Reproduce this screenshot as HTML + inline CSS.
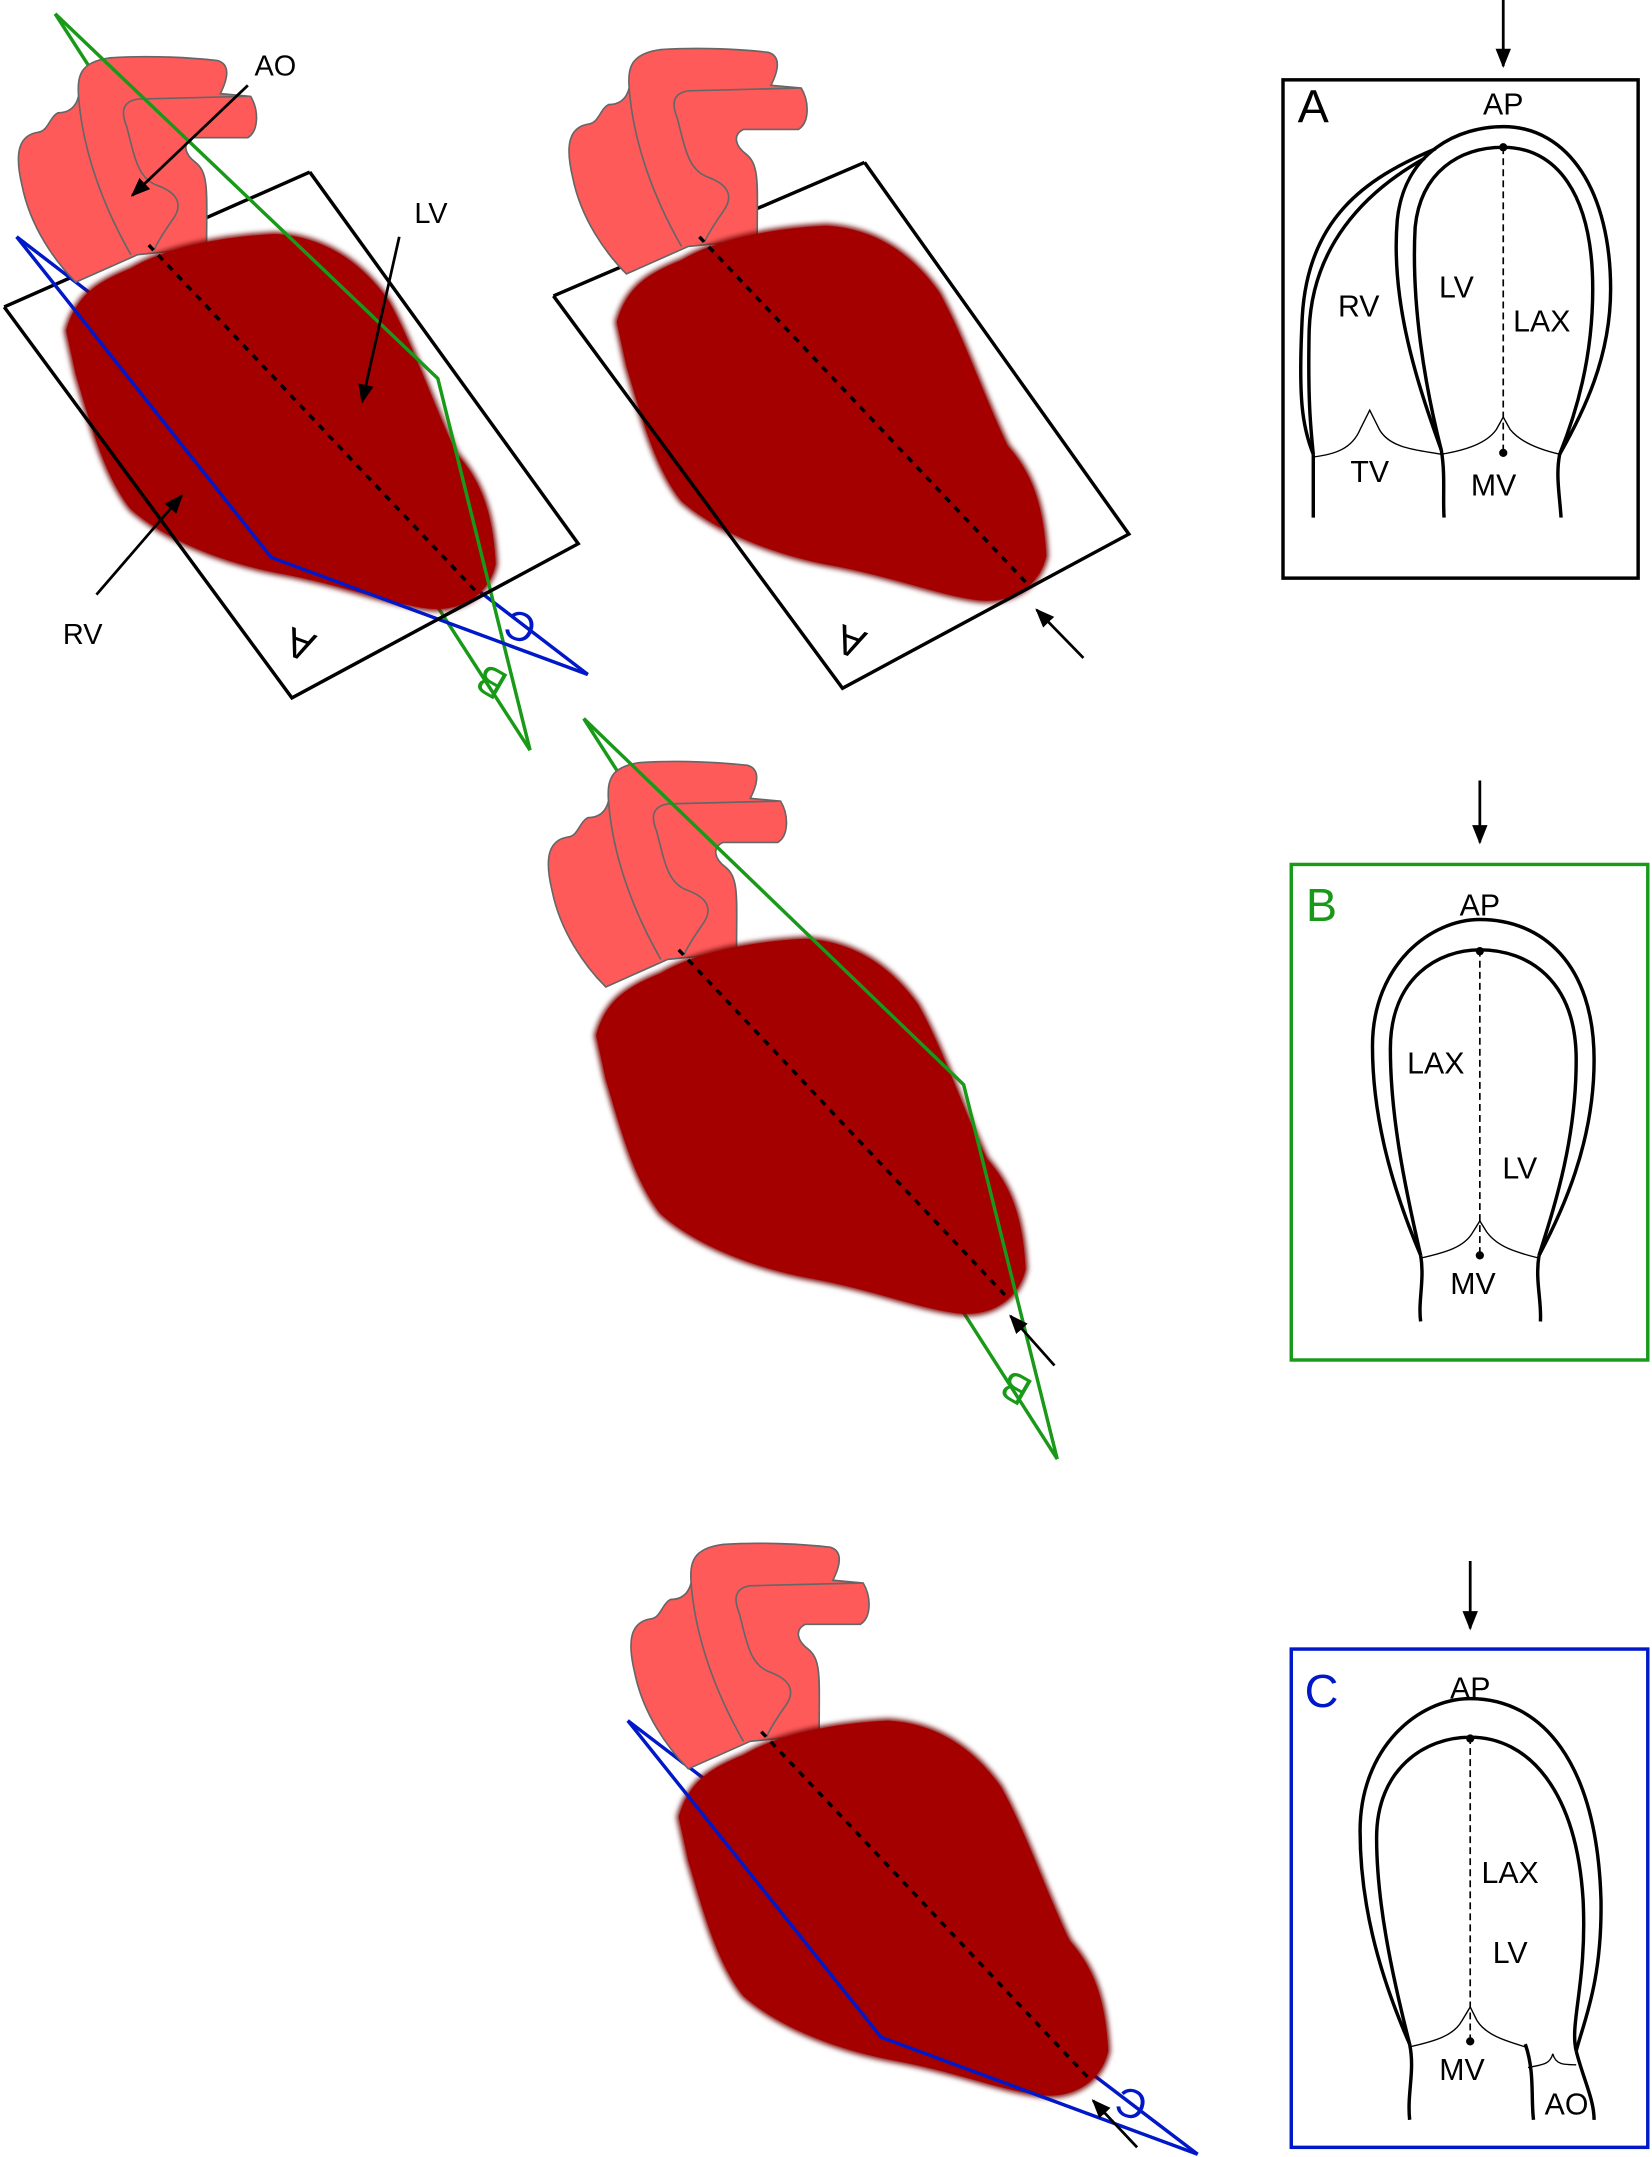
<!DOCTYPE html>
<html><head><meta charset="utf-8"><style>html,body{margin:0;padding:0;background:#fff}svg{display:block}</style></head>
<body>
<svg width="1652" height="2157" viewBox="0 0 1200 1567" xmlns="http://www.w3.org/2000/svg" font-family="Liberation Sans, sans-serif">
<defs>
<filter id="bl" x="-10%" y="-10%" width="120%" height="120%"><feGaussianBlur stdDeviation="2"/></filter>
<marker id="ah" viewBox="0 0 10 10" refX="9" refY="5" markerWidth="7" markerHeight="7" orient="auto"><path d="M0,1 L10,5 L0,9 Z" fill="#000"/></marker>
<g id="vessels">
<path d="M55,205 C40,190 22,165 16,135 C10,110 14,98 28,96 C35,95 36,85 42,82 C50,82 55,78 57,70 C56,55 58,45 80,42 C110,40 140,42 158,44 C168,47 165,58 160,68 L182,70 C188,80 188,95 180,100 L140,100 C132,104 134,112 142,118 C152,126 150,140 150,180 L100,185 Z" fill="#FF5A5A" stroke="#666" stroke-width="1.2"/>
<path d="M57,70 C60,110 75,150 95,185" fill="none" stroke="#666" stroke-width="1.2"/>
<path d="M180,70 L100,72 C88,74 88,82 92,92 C98,115 100,130 115,135 C128,140 134,148 125,160 C118,170 112,180 112,182" fill="none" stroke="#666" stroke-width="1.2"/>
</g>
<g id="body">
<path d="M48,240 C55,215 70,205 95,195 C120,180 160,172 200,170 C235,172 262,190 282,218 C300,250 315,295 332,330 C348,348 358,370 360,410 C355,432 335,445 310,442 C280,438 250,425 200,416 C160,408 120,392 95,370 C75,345 65,305 55,272 Z" fill="#A50000" stroke="#6a0000" stroke-width="3" filter="url(#bl)"/>
<path d="M48,240 C55,215 70,205 95,195 C120,180 160,172 200,170 C235,172 262,190 282,218 C300,250 315,295 332,330 C348,348 358,370 360,410 C355,432 335,445 310,442 C280,438 250,425 200,416 C160,408 120,392 95,370 C75,345 65,305 55,272 Z" fill="#A50000"/>
<line x1="108" y1="178" x2="348" y2="432" stroke="#000" stroke-width="2.5" stroke-dasharray="5,5"/>
</g>
</defs>

<!-- Heart 1 -->
<g>
<polyline points="3,223 225,125" fill="none" stroke="#000" stroke-width="2.5"/>
<line x1="385" y1="545" x2="40" y2="10" stroke="#189a18" stroke-width="2.5"/>
<line x1="427" y1="490" x2="12" y2="172" stroke="#0018c8" stroke-width="2.5"/>
<use href="#vessels"/>
<use href="#body"/>
<polyline points="40,10 318,275 385,545" fill="none" stroke="#189a18" stroke-width="2.5"/>
<polyline points="12,172 197,405 427,490" fill="none" stroke="#0018c8" stroke-width="2.5"/>
<polyline points="3,223 212,507 420,395 225,125" fill="none" stroke="#000" stroke-width="2.5"/>
<text x="0" y="10" font-size="30" transform="translate(218,468) rotate(200)" text-anchor="middle">A</text>
<text x="0" y="10" font-size="30" fill="#0018c8" transform="translate(378,455) rotate(200)" text-anchor="middle">C</text>
<text x="0" y="10" font-size="30" fill="#189a18" transform="translate(357,495) rotate(210)" text-anchor="middle">B</text>
<text x="200" y="55" font-size="21" text-anchor="middle">AO</text>
<line x1="180" y1="62" x2="96" y2="142" stroke="#000" stroke-width="2" marker-end="url(#ah)"/>
<text x="313" y="162" font-size="21" text-anchor="middle">LV</text>
<line x1="290" y1="172" x2="263" y2="292" stroke="#000" stroke-width="2" marker-end="url(#ah)"/>
<text x="60" y="468" font-size="21" text-anchor="middle">RV</text>
<line x1="70" y1="432" x2="132" y2="360" stroke="#000" stroke-width="2" marker-end="url(#ah)"/>
</g>

<!-- Heart 2 -->
<g>
<line x1="402" y1="215" x2="628" y2="118" stroke="#000" stroke-width="2.5"/>
<g transform="translate(400,-6)"><use href="#vessels"/><use href="#body"/></g>
<polyline points="402,215 612,500 820,388 628,118" fill="none" stroke="#000" stroke-width="2.5"/>
<text x="0" y="10" font-size="30" transform="translate(618,466) rotate(200)" text-anchor="middle">A</text>
<line x1="787" y1="478" x2="753" y2="443" stroke="#000" stroke-width="2" marker-end="url(#ah)"/>
</g>

<!-- Heart 3 -->
<g>
<line x1="768" y1="1060" x2="424" y2="522" stroke="#189a18" stroke-width="2.5"/>
<g transform="translate(385,512)"><use href="#vessels"/><use href="#body"/></g>
<polyline points="424,522 700,788 768,1060" fill="none" stroke="#189a18" stroke-width="2.5"/>
<text x="0" y="10" font-size="30" fill="#189a18" transform="translate(738,1008) rotate(210)" text-anchor="middle">B</text>
<line x1="766" y1="992" x2="734" y2="956" stroke="#000" stroke-width="2" marker-end="url(#ah)"/>
</g>

<!-- Heart 4 -->
<g>
<line x1="870" y1="1565" x2="456" y2="1250" stroke="#0018c8" stroke-width="2.5"/>
<g transform="translate(445,1080)"><use href="#vessels"/><use href="#body"/></g>
<polyline points="456,1250 640,1480 870,1565" fill="none" stroke="#0018c8" stroke-width="2.5"/>
<text x="0" y="10" font-size="30" fill="#0018c8" transform="translate(822,1528) rotate(200)" text-anchor="middle">C</text>
<line x1="826" y1="1560" x2="794" y2="1526" stroke="#000" stroke-width="2" marker-end="url(#ah)"/>
</g>

<!-- Panel A -->
<g fill="none" stroke="#000">
<line x1="1092" y1="0" x2="1092" y2="48" stroke-width="2" marker-end="url(#ah)"/>
<rect x="932" y="58" width="258" height="362" stroke-width="2.5"/>
<path d="M1047,327 C1030,280 1010,220 1015,160 C1020,110 1060,92 1092,92 C1140,92 1170,140 1170,210 C1170,260 1150,300 1133,330" stroke-width="2.5"/>
<path d="M1047,327 C1035,280 1025,220 1028,165 C1032,125 1060,107 1092,107 C1130,107 1157,140 1157,210 C1157,260 1145,300 1133,330" stroke-width="2.5"/>
<path d="M1043,108 C990,130 950,160 946,230 C943,290 946,310 954,330" stroke-width="2.5"/>
<path d="M1035,115 C990,140 953,180 951,240 C950,290 952,310 954,330" stroke-width="2.5"/>
<path d="M954,330 L954,376 M1047,327 C1050,345 1048,360 1049,376 M1133,330 C1130,345 1133,360 1134,376" stroke-width="2.5"/>
<path d="M954,332 C970,330 982,326 988,312 L995,298 L1002,312 C1010,326 1030,327 1047,330" stroke-width="1"/>
<path d="M1047,330 C1065,327 1080,322 1087,312 L1092,303 L1097,312 C1105,322 1120,327 1133,330" stroke-width="1"/>
<line x1="1092" y1="107" x2="1092" y2="329" stroke-width="1.2" stroke-dasharray="5,3"/>
</g>
<circle cx="1092" cy="107" r="3"/><circle cx="1092" cy="329" r="3"/>
<g font-size="22" text-anchor="middle">
<text x="954" y="89" font-size="34">A</text>
<text x="1092" y="83">AP</text>
<text x="987" y="230">RV</text>
<text x="1058" y="216">LV</text>
<text x="1120" y="241">LAX</text>
<text x="995" y="350">TV</text>
<text x="1085" y="360">MV</text>
</g>

<!-- Panel B -->
<g fill="none" stroke="#000">
<line x1="1075" y1="567" x2="1075" y2="612" stroke-width="2" marker-end="url(#ah)"/>
<rect x="938" y="628" width="259" height="360" stroke="#189a18" stroke-width="2.5"/>
<path d="M1032,912 C1010,860 997,810 997,760 C997,700 1040,668 1075,668 C1120,668 1158,700 1158,770 C1158,830 1135,880 1118,912" stroke-width="2.5"/>
<path d="M1032,912 C1020,860 1010,810 1010,762 C1010,710 1045,690 1075,690 C1110,690 1145,712 1145,770 C1145,830 1128,880 1118,912" stroke-width="2.5"/>
<path d="M1032,912 C1035,930 1030,945 1032,960 M1118,912 C1115,930 1120,945 1119,960" stroke-width="2.5"/>
<path d="M1032,914 C1050,910 1064,906 1070,895 L1075,887 L1080,895 C1088,906 1102,910 1118,914" stroke-width="1"/>
<line x1="1075" y1="690" x2="1075" y2="912" stroke-width="1.2" stroke-dasharray="5,3"/>
</g>
<circle cx="1075" cy="691" r="3"/><circle cx="1075" cy="912" r="3"/>
<g font-size="22" text-anchor="middle">
<text x="960" y="669" font-size="34" fill="#189a18">B</text>
<text x="1075" y="665">AP</text>
<text x="1043" y="780">LAX</text>
<text x="1104" y="856">LV</text>
<text x="1070" y="940">MV</text>
</g>

<!-- Panel C -->
<g fill="none" stroke="#000">
<line x1="1068" y1="1134" x2="1068" y2="1183" stroke-width="2" marker-end="url(#ah)"/>
<rect x="938" y="1198" width="259" height="362" stroke="#0018c8" stroke-width="2.5"/>
<path d="M1024,1485 C1000,1430 988,1380 988,1330 C988,1270 1030,1234 1068,1234 C1120,1234 1160,1280 1163,1380 C1164,1440 1150,1470 1145,1490" stroke-width="2.5"/>
<path d="M1024,1485 C1010,1430 1000,1380 1000,1335 C1000,1285 1035,1262 1068,1262 C1110,1262 1145,1300 1150,1380 C1153,1440 1140,1470 1145,1490" stroke-width="2.5"/>
<path d="M1024,1485 C1028,1505 1022,1520 1024,1540 M1145,1490 C1150,1510 1158,1525 1158,1540 M1108,1485 C1115,1505 1112,1525 1114,1540" stroke-width="2.5"/>
<path d="M1024,1487 C1042,1483 1056,1479 1062,1468 L1068,1458 L1073,1468 C1080,1479 1095,1483 1108,1487" stroke-width="1"/>
<path d="M1110,1502 C1120,1500 1126,1500 1128,1492 C1130,1500 1136,1500 1145,1500" stroke-width="1"/>
<line x1="1068" y1="1262" x2="1068" y2="1483" stroke-width="1.2" stroke-dasharray="5,3"/>
</g>
<circle cx="1068" cy="1263" r="3"/><circle cx="1068" cy="1483" r="3"/>
<g font-size="22" text-anchor="middle">
<text x="960" y="1240" font-size="34" fill="#0018c8">C</text>
<text x="1068" y="1234">AP</text>
<text x="1097" y="1368">LAX</text>
<text x="1097" y="1426">LV</text>
<text x="1062" y="1511">MV</text>
<text x="1138" y="1536">AO</text>
</g>
</svg>
</body></html>
